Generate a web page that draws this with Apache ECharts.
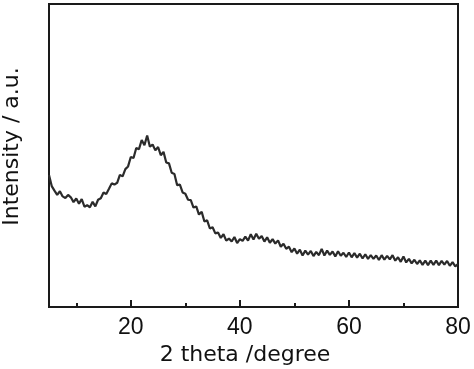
<!DOCTYPE html>
<html>
<head>
<meta charset="utf-8">
<script src="https://cdn.jsdelivr.net/npm/echarts@6/dist/echarts.min.js"></script>
<style>
  html, body { margin: 0; padding: 0; background: #fff; }
  #main { width: 474px; height: 369px; }
</style>
</head>
<body>
<div id="main"></div>
<script>
// 2 theta sampling grid, 5..80 deg every 0.5 deg
const twoTheta = [];
for (let i = 0; i <= 150; i++) twoTheta.push(5 + i * 0.5);

// intensity (a.u.), one value per grid point
const intensity = [
  43.6, 39.9, 38.4, 37.0, 38.2, 36.5, 36.0, 37.0, 36.2, 34.6,   // 5 - 9.5
  35.8, 34.1, 35.6, 33.1, 33.6, 32.9, 34.7, 33.2, 35.4, 35.9,   // 10 - 14.5
  37.8, 37.3, 39.0, 40.8, 40.4, 41.0, 43.6, 43.1, 45.5, 46.4,   // 15 - 19.5
  49.5, 49.2, 52.5, 52.1, 55.1, 53.4, 56.6, 52.9, 53.6, 51.7,   // 20 - 24.5
  52.8, 50.1, 51.2, 47.7, 47.4, 44.3, 43.9, 40.2, 40.4, 37.8,   // 25 - 29.5
  37.4, 35.4, 35.3, 32.8, 33.2, 30.5, 31.4, 28.2, 28.6, 25.9,   // 30 - 34.5
  26.3, 24.3, 24.6, 22.8, 24.0, 21.9, 22.6, 21.6, 23.1, 21.1,   // 35 - 39.5
  22.4, 21.8, 23.2, 21.9, 24.0, 22.3, 24.2, 22.5, 23.4, 21.6,   // 40 - 44.5
  23.0, 21.2, 22.4, 20.9, 22.0, 19.9, 20.9, 19.2, 19.9, 18.1,   // 45 - 49.5
  19.3, 17.6, 18.9, 17.0, 18.6, 17.3, 18.5, 16.8, 18.2, 17.1,   // 50 - 54.5
  19.2, 17.0, 18.6, 17.2, 18.3, 16.7, 18.4, 16.9, 17.9, 16.5,   // 55 - 59.5
  18.0, 16.4, 17.8, 16.3, 17.6, 16.0, 17.4, 15.9, 17.1, 15.9,   // 60 - 64.5
  17.0, 15.5, 17.1, 15.6, 16.9, 15.7, 17.1, 15.3, 16.4, 14.9,   // 65 - 69.5
  16.7, 14.7, 15.9, 14.4, 15.6, 14.2, 15.4, 13.9, 15.3, 13.8,   // 70 - 74.5
  15.3, 13.9, 15.3, 13.8, 15.2, 14.0, 15.2, 13.6, 14.8, 13.4,   // 75 - 79.5
  14.2                                                          // 80
];

const majorTicks = [20, 40, 60, 80];
const minorTicks = [10, 30, 50, 70];

const chart = echarts.init(document.getElementById('main'));

const option = {
  animation: false,
  backgroundColor: '#fff',
  grid: {
    left: 49,
    right: 16,
    top: 4,
    bottom: 62,
    containLabel: false,
    outerBoundsMode: 'none',
    show: true,
    borderColor: '#1a1a1a',
    borderWidth: 2,
    backgroundColor: 'transparent'
  },
  xAxis: [
    {
      type: 'value',
      min: 5,
      max: 80,
      name: '2 theta /degree',
      nameLocation: 'middle',
      nameGap: 30,
      nameTextStyle: {
        fontFamily: 'DejaVu Sans',
        fontSize: 22,
        color: '#111',
        padding: [0, 17, 0, 0]
      },
      axisLine: { show: true, lineStyle: { color: '#1a1a1a', width: 2 } },
      axisTick: {
        show: true,
        inside: true,
        length: 7,
        customValues: majorTicks,
        lineStyle: { color: '#1a1a1a', width: 2 }
      },
      axisLabel: {
        customValues: majorTicks,
        margin: 9,
        fontFamily: 'Liberation Sans',
        fontSize: 23,
        color: '#111'
      },
      splitLine: { show: false }
    },
    {
      type: 'value',
      position: 'bottom',
      min: 5,
      max: 80,
      axisLine: { show: false },
      axisTick: {
        show: true,
        inside: true,
        length: 4,
        customValues: minorTicks,
        lineStyle: { color: '#1a1a1a', width: 2 }
      },
      axisLabel: { show: false },
      splitLine: { show: false }
    }
  ],
  yAxis: {
    type: 'value',
    min: 0,
    max: 100,
    name: 'Intensity / a.u.',
    nameLocation: 'middle',
    nameGap: 26,
    nameRotate: 90,
    nameTextStyle: {
      fontFamily: 'DejaVu Sans',
      fontSize: 22,
      color: '#111',
      padding: [0, 0, 0, 18]
    },
    axisLine: { show: true, lineStyle: { color: '#1a1a1a', width: 2 } },
    axisTick: { show: false },
    axisLabel: { show: false },
    splitLine: { show: false }
  },
  series: [
    {
      type: 'line',
      data: twoTheta.map((t, i) => [t, intensity[i]]),
      showSymbol: false,
      lineStyle: { color: '#2b2b2b', width: 2.2 }
    }
  ]
};

chart.setOption(option);
</script>
</body>
</html>
